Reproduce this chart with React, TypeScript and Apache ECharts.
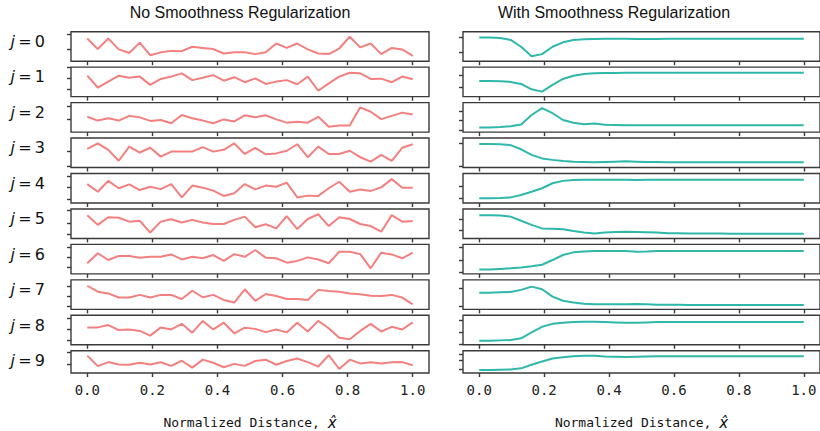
import React, { useEffect, useRef } from "react";
import * as echarts from "echarts";

// sampling grid along normalized distance (32 samples from 0 to 1)
const N_SAMPLES = 32;
const xSamples: number[] = Array.from({ length: N_SAMPLES }, (_, i) => i / (N_SAMPLES - 1));

const rowLabels = ["0", "1", "2", "3", "4", "5", "6", "7", "8", "9"];
const xTickValues = [0, 0.2, 0.4, 0.6, 0.8, 1.0];
const leftTitle = "No Smoothness Regularization";
const rightTitle = "With Smoothness Regularization";

// values expressed as fraction of each panel's vertical range
const noisy0 = [0.77,0.41,0.77,0.40,0.28,0.63,0.20,0.30,0.35,0.34,0.49,0.45,0.41,0.26,0.30,0.30,0.24,0.30,0.60,0.45,0.60,0.40,0.26,0.24,0.43,0.83,0.47,0.60,0.24,0.45,0.40,0.18];
const noisy1 = [0.71,0.31,0.51,0.71,0.64,0.68,0.40,0.60,0.68,0.79,0.56,0.64,0.73,0.54,0.66,0.49,0.62,0.43,0.51,0.56,0.42,0.68,0.20,0.45,0.68,0.81,0.79,0.60,0.61,0.49,0.68,0.59];
const noisy2 = [0.52,0.39,0.47,0.39,0.55,0.50,0.38,0.41,0.30,0.58,0.47,0.39,0.30,0.43,0.36,0.57,0.50,0.57,0.43,0.32,0.35,0.32,0.52,0.18,0.22,0.22,0.84,0.69,0.44,0.55,0.66,0.60];
const noisy3 = [0.63,0.82,0.60,0.23,0.71,0.51,0.67,0.37,0.54,0.54,0.54,0.69,0.54,0.60,0.82,0.46,0.67,0.45,0.48,0.57,0.79,0.35,0.71,0.46,0.46,0.57,0.35,0.20,0.43,0.23,0.67,0.79];
const noisy4 = [0.64,0.38,0.75,0.50,0.63,0.44,0.55,0.47,0.64,0.19,0.59,0.52,0.42,0.24,0.33,0.64,0.46,0.59,0.55,0.69,0.19,0.25,0.24,0.50,0.72,0.38,0.46,0.41,0.53,0.81,0.52,0.52];
const noisy5 = [0.79,0.46,0.72,0.70,0.57,0.60,0.20,0.57,0.65,0.54,0.63,0.54,0.49,0.49,0.63,0.74,0.38,0.48,0.34,0.76,0.32,0.66,0.82,0.42,0.72,0.66,0.49,0.42,0.23,0.79,0.57,0.59];
const noisy6 = [0.36,0.70,0.47,0.61,0.61,0.55,0.58,0.58,0.66,0.49,0.58,0.53,0.64,0.44,0.67,0.58,0.81,0.55,0.53,0.38,0.44,0.56,0.49,0.36,0.75,0.75,0.67,0.19,0.72,0.66,0.53,0.72];
const noisy7 = [0.80,0.60,0.54,0.40,0.40,0.49,0.40,0.49,0.49,0.35,0.63,0.41,0.49,0.32,0.23,0.68,0.29,0.52,0.45,0.35,0.35,0.32,0.66,0.62,0.60,0.54,0.51,0.46,0.45,0.49,0.40,0.17];
const noisy8 = [0.59,0.59,0.67,0.50,0.52,0.47,0.31,0.59,0.52,0.71,0.41,0.81,0.52,0.75,0.39,0.58,0.54,0.43,0.52,0.42,0.75,0.45,0.81,0.56,0.24,0.19,0.47,0.71,0.45,0.61,0.52,0.76];
const noisy9 = [0.78,0.31,0.49,0.38,0.37,0.46,0.38,0.48,0.32,0.55,0.24,0.60,0.46,0.26,0.41,0.32,0.54,0.60,0.37,0.54,0.65,0.49,0.29,0.80,0.18,0.60,0.43,0.48,0.43,0.48,0.49,0.35];

const smooth0 = [0.80,0.80,0.79,0.72,0.49,0.17,0.24,0.49,0.64,0.72,0.74,0.75,0.76,0.76,0.76,0.75,0.75,0.75,0.76,0.76,0.76,0.76,0.76,0.76,0.76,0.76,0.76,0.76,0.76,0.76,0.76,0.76];
const smooth1 = [0.53,0.53,0.52,0.50,0.43,0.25,0.17,0.40,0.60,0.71,0.77,0.79,0.80,0.80,0.81,0.81,0.81,0.81,0.81,0.81,0.81,0.81,0.81,0.81,0.81,0.81,0.81,0.81,0.81,0.81,0.81,0.81];
const smooth2 = [0.16,0.16,0.17,0.20,0.26,0.58,0.81,0.64,0.41,0.32,0.27,0.29,0.25,0.24,0.23,0.23,0.23,0.23,0.23,0.23,0.23,0.23,0.23,0.23,0.23,0.23,0.23,0.23,0.23,0.23,0.23,0.23];
const smooth3 = [0.80,0.80,0.79,0.76,0.62,0.43,0.31,0.26,0.22,0.20,0.19,0.18,0.19,0.20,0.21,0.20,0.19,0.19,0.18,0.18,0.18,0.18,0.18,0.18,0.18,0.18,0.18,0.18,0.18,0.18,0.18,0.18];
const smooth4 = [0.16,0.16,0.17,0.19,0.27,0.38,0.50,0.67,0.75,0.78,0.79,0.79,0.79,0.79,0.79,0.78,0.79,0.79,0.79,0.79,0.79,0.79,0.79,0.79,0.79,0.79,0.79,0.79,0.79,0.79,0.79,0.79];
const smooth5 = [0.79,0.79,0.78,0.74,0.60,0.46,0.34,0.33,0.31,0.25,0.20,0.17,0.20,0.22,0.23,0.22,0.21,0.20,0.18,0.18,0.17,0.17,0.17,0.17,0.16,0.16,0.16,0.16,0.16,0.16,0.16,0.16];
const smooth6 = [0.15,0.15,0.17,0.19,0.22,0.26,0.31,0.47,0.64,0.73,0.76,0.78,0.78,0.78,0.78,0.75,0.76,0.78,0.78,0.78,0.78,0.78,0.78,0.78,0.78,0.78,0.78,0.78,0.78,0.78,0.78,0.78];
const smooth7 = [0.56,0.56,0.58,0.59,0.66,0.77,0.68,0.43,0.29,0.23,0.19,0.17,0.17,0.17,0.17,0.18,0.17,0.16,0.16,0.16,0.15,0.15,0.15,0.15,0.15,0.15,0.15,0.15,0.15,0.15,0.15,0.15];
const smooth8 = [0.14,0.14,0.15,0.16,0.22,0.42,0.61,0.71,0.75,0.77,0.78,0.78,0.77,0.76,0.75,0.75,0.76,0.77,0.77,0.77,0.77,0.77,0.77,0.77,0.77,0.77,0.77,0.77,0.77,0.77,0.77,0.77];
const smooth9 = [0.14,0.14,0.15,0.16,0.21,0.37,0.52,0.65,0.71,0.75,0.77,0.77,0.74,0.73,0.72,0.73,0.74,0.75,0.75,0.75,0.75,0.75,0.75,0.75,0.75,0.75,0.75,0.75,0.75,0.75,0.75,0.75];

const noisyRows = [noisy0, noisy1, noisy2, noisy3, noisy4, noisy5, noisy6, noisy7, noisy8, noisy9];
const smoothRows = [smooth0, smooth1, smooth2, smooth3, smooth4, smooth5, smooth6, smooth7, smooth8, smooth9];

// y tick positions of each panel (same fractional units)
const noisyYTicks = [[0.40, 0.92], [0.25, 0.62, 0.99], [0.43, 0.88], [0.03, 0.54], [0.13, 0.52, 0.92], [0.13, 0.53, 0.95], [0.24, 0.58, 0.89], [0.09, 0.43, 0.79], [0.16, 0.54, 0.90], [0.41, 0.95]];
const smoothYTicks = [[0.32, 0.81], [0.31, 0.73], [0.07, 0.39, 0.69], [0.03, 0.82], [0.15, 0.58], [0.29, 0.66], [0.04, 0.47, 0.92], [0.09, 0.71], [0.02, 0.42, 0.84], [0.18, 0.57, 0.86]];

export default function App() {
  const ref = useRef<HTMLDivElement>(null);
  useEffect(() => {
    if (!ref.current) return;
    const chart = echarts.init(ref.current, undefined, { renderer: "svg" });
    const frame = "#3a3a3a";
    const rowTop0 = 31.7;
    const rowPitch = 35.45;
    const rowH = 29.5;
    const cols = [
      { left: 71, width: 358, rows: noisyRows, ticks: noisyYTicks, color: "#f47f7f" },
      { left: 463, width: 359, rows: smoothRows, ticks: smoothYTicks, color: "#2fb8aa" },
    ];
    const grid: any[] = [];
    const xAxis: any[] = [];
    const yAxis: any[] = [];
    const series: any[] = [];
    const graphic: any[] = [];
    cols.forEach((c, ci) => {
      c.rows.forEach((vals, r) => {
        const idx = ci * 10 + r;
        const isBottom = r === 9;
        grid.push({
          left: c.left,
          width: c.width,
          top: rowTop0 + rowPitch * r,
          height: rowH,
          show: true,
          borderColor: frame,
          borderWidth: 1.4,
          backgroundColor: "transparent",
        });
        xAxis.push({
          gridIndex: idx,
          type: "value",
          min: -0.05,
          max: 1.05,
          axisLine: { show: false, onZero: false },
          splitLine: { show: false },
          axisTick: { show: true, customValues: xTickValues, length: 4, lineStyle: { color: frame, width: 1.4 } },
          axisLabel: {
            show: isBottom,
            customValues: xTickValues,
            formatter: (v: number) => v.toFixed(1),
            fontFamily: "DejaVu Sans Mono",
            fontSize: 14,
            color: "#222",
            margin: 10,
          },
          name: isBottom ? "Normalized Distance, {i|x\u0302}" : "",
          nameLocation: "middle",
          nameGap: 42,
          nameTextStyle: {
            fontFamily: "DejaVu Sans Mono",
            fontSize: 13,
            color: "#111",
            rich: { i: { fontFamily: "DejaVu Sans", fontStyle: "italic", fontSize: 15, color: "#111" } },
          },
        });
        yAxis.push({
          gridIndex: idx,
          type: "value",
          min: 0,
          max: 1,
          axisLine: { show: false, onZero: false },
          splitLine: { show: false },
          axisLabel: { show: false },
          axisTick: { show: true, customValues: c.ticks[r], length: 4, lineStyle: { color: frame, width: 1.4 } },
        });
        series.push({
          type: "line",
          xAxisIndex: idx,
          yAxisIndex: idx,
          data: xSamples.map((x, i) => [x, vals[i]]),
          showSymbol: false,
          symbol: "none",
          lineStyle: { color: c.color, width: 2 },
          silent: true,
        });
      });
    });
    rowLabels.forEach((lab, r) => {
      graphic.push({
        type: "text",
        x: 45,
        y: rowTop0 + rowPitch * r + rowH / 2 - 5,
        style: {
          text: "{i|j}\u2009=\u2009" + lab,
          align: "right",
          verticalAlign: "middle",
          fontFamily: "DejaVu Sans",
          fontSize: 16,
          fill: "#111",
          rich: {
            i: { fontFamily: "DejaVu Sans", fontStyle: "italic", fontSize: 16, fill: "#111" },
          },
        },
      });
    });
    graphic.push({
      type: "text",
      x: 240,
      y: 12,
      style: { text: leftTitle, align: "center", verticalAlign: "middle", fontFamily: "Liberation Sans", fontSize: 16, fill: "#111" },
    });
    graphic.push({
      type: "text",
      x: 614,
      y: 12,
      style: { text: rightTitle, align: "center", verticalAlign: "middle", fontFamily: "Liberation Sans", fontSize: 16, fill: "#111" },
    });
    chart.setOption({
      animation: false,
      backgroundColor: "#ffffff",
      grid,
      xAxis,
      yAxis,
      series,
      graphic,
    });
    return () => chart.dispose();
  }, []);
  return <div ref={ref} style={{ position: "fixed", left: 0, top: 0, width: 820, height: 431 }} />;
}
